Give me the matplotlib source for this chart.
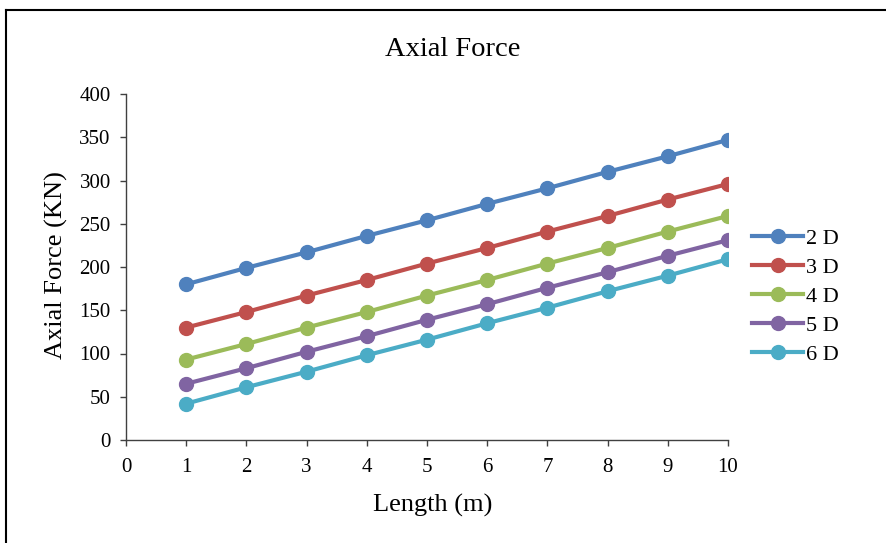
import numpy as np
import matplotlib
matplotlib.use('Agg')
import matplotlib.pyplot as plt
from matplotlib.lines import Line2D

plt.rcParams['font.family'] = ['Liberation Serif', 'DejaVu Serif']

# axial force per pile length for each spacing
length = [1, 2, 3, 4, 5, 6, 7, 8, 9, 10]
force_2d = [180, 199, 217, 236, 254, 273, 291, 310, 328, 347]
force_3d = [130, 148, 167, 185, 204, 222, 241, 259, 278, 296]
force_4d = [93, 111, 130, 148, 167, 185, 204, 222, 241, 259]
force_5d = [65, 83, 102, 120, 139, 157, 176, 194, 213, 231]
force_6d = [42, 61, 79, 98, 116, 135, 153, 172, 190, 209]
labels = ['2 D', '3 D', '4 D', '5 D', '6 D']

colors = ['#4F81BD', '#C0504D', '#9BBB59', '#8064A2', '#4BACC6']
series = [force_2d, force_3d, force_4d, force_5d, force_6d]

W, H = 886, 543
fig = plt.figure(figsize=(W / 100, H / 100), dpi=100)
ax = fig.add_axes([126 / W, 1 - 440 / H, 602 / W, 346 / H])

for vals, c, lab in zip(series, colors, labels):
    ax.plot(length, vals, color=c, linewidth=3, marker='o',
            markersize=10, label=lab)

ax.set_xlim(0, 10)
ax.set_ylim(0, 400)
ax.set_xticks(range(0, 11))
ax.set_yticks(range(0, 401, 50))
ax.spines['top'].set_visible(False)
ax.spines['right'].set_visible(False)
for s in ['left', 'bottom']:
    ax.spines[s].set_color('#404040')
    ax.spines[s].set_linewidth(1.0)
ax.tick_params(axis='both', direction='out', length=4, width=1.0,
               color='#404040', labelsize=15, pad=7)
ax.tick_params(axis='x', pad=9)

# titles placed in figure pixels
fig.text(452.5 / W, 1 - 56 / H, 'Axial Force', ha='center', va='baseline',
         fontsize=20.5)
fig.text(433 / W, 1 - 511.5 / H, 'Length (m)', ha='center', va='baseline',
         fontsize=19)
fig.text(63 / W, 1 - 265 / H, 'Axial Force (KN)', rotation=90,
         rotation_mode='anchor', ha='center', va='baseline', fontsize=19)

leg = ax.legend(loc='center left', bbox_to_anchor=(752 / W, 1 - 296.6 / H),
                bbox_transform=fig.transFigure, frameon=False,
                fontsize=16, handlelength=2.3, handletextpad=0.15,
                labelspacing=0.38, borderaxespad=0, borderpad=0)

# outer chart frame (left and top edges)
fig.add_artist(Line2D([6 / W, 6 / W], [0.0, 1 - 10 / H],
                      transform=fig.transFigure, color='black', linewidth=1.5))
fig.add_artist(Line2D([6 / W, 1.0], [1 - 10 / H, 1 - 10 / H],
                      transform=fig.transFigure, color='black', linewidth=1.5))

fig.savefig('out.png', dpi=100)
